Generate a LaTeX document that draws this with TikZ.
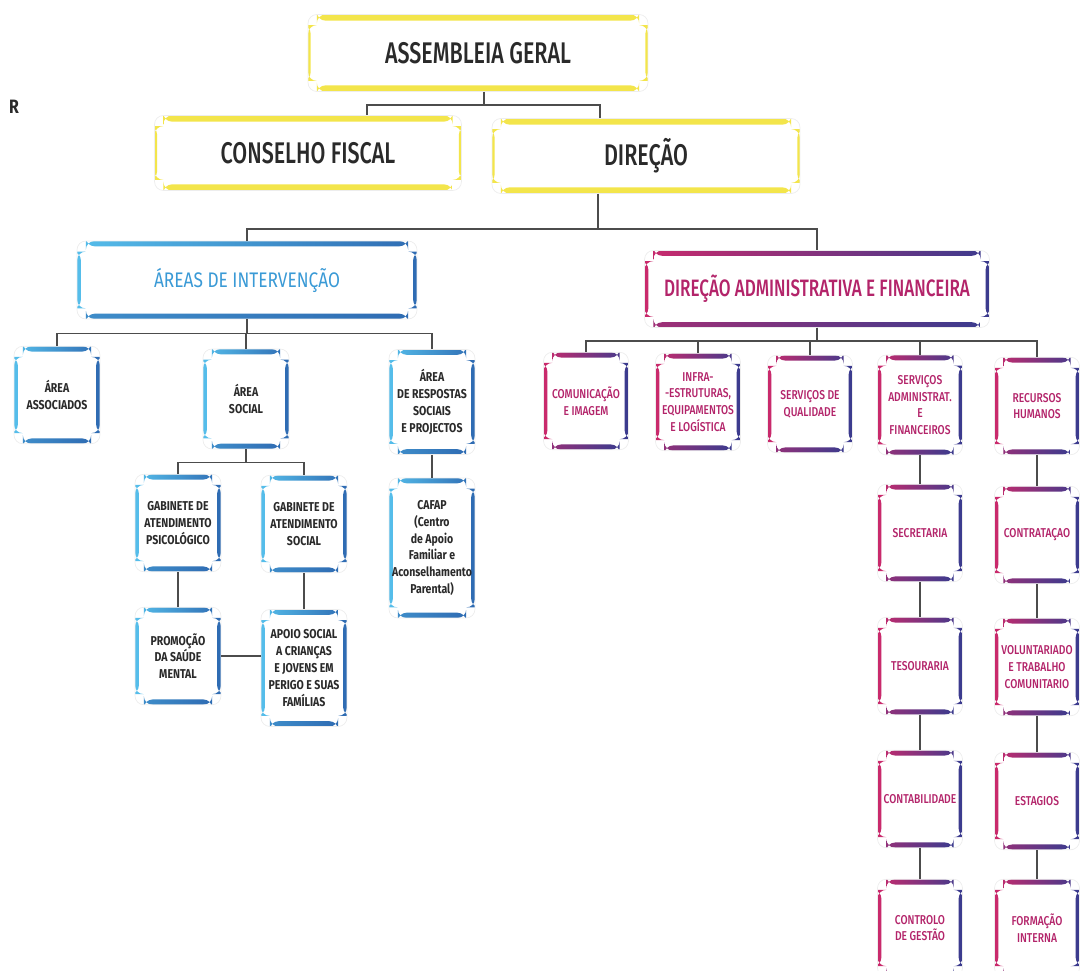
\documentclass[tikz,border=0pt]{standalone}
\usepackage{fontspec}
\setmainfont{Fira Sans}[FakeStretch=0.82]
\newfontfamily\titlefont{Fira Sans Medium}[FakeStretch=0.72]
\newfontfamily\boxfont{Fira Sans Medium}[FakeStretch=0.8]

\definecolor{ylw}{HTML}{F3E54B}
\definecolor{skyb}{HTML}{55BDEA}
\definecolor{deepb}{HTML}{2F6CB3}
\definecolor{magA}{HTML}{C92A6C}
\definecolor{magB}{HTML}{3C3B8E}
\definecolor{inkd}{HTML}{2A2A2A}
\definecolor{bluetxt}{HTML}{3A9AD6}
\definecolor{magtxt}{HTML}{B3246A}

\tikzset{
  frame/.style n args={5}{fill=white, draw=black!7, rounded corners=5pt,
    align=center, inner sep=1pt,
    path picture={
      \shade[left color=#1, right color=#2]
        ([xshift=5pt]path picture bounding box.north west) rectangle
        ([xshift=-5pt,yshift=-#3]path picture bounding box.north east);
      \shade[left color=#5, right color=#2]
        ([xshift=5pt]path picture bounding box.south west) rectangle
        ([xshift=-5pt,yshift=#3]path picture bounding box.south east);
      \fill[#1] ([yshift=-6pt]path picture bounding box.north west) rectangle
        ([xshift=#4,yshift=6pt]path picture bounding box.south west);
      \fill[#2] ([yshift=-6pt]path picture bounding box.north east) rectangle
        ([xshift=-#4,yshift=6pt]path picture bounding box.south east);
    }},
  bigbox/.style={frame={ylw}{ylw}{3.5pt}{1.5pt}{ylw}, minimum width=6.14cm,
    minimum height=1.5cm, text=inkd,
    font=\titlefont\fontsize{17}{19}\selectfont},
  headblue/.style={frame={skyb}{deepb}{3pt}{2.2pt}{skyb!40!deepb}, minimum width=6.8cm,
    minimum height=1.56cm, text=bluetxt, font=\fontsize{12}{14}\selectfont},
  headpink/.style={frame={magA}{magB}{3pt}{2.2pt}{magA!70!magB}, minimum width=6.9cm,
    minimum height=1.54cm, text=magtxt,
    font=\titlefont\fontsize{13.5}{15}\selectfont},
  leftbox/.style={frame={skyb}{deepb}{3pt}{2.2pt}{skyb!40!deepb}, minimum width=1.72cm,
    minimum height=1.95cm, text=inkd,
    font=\bfseries\fontsize{7.3}{9.6}\selectfont},
  rightbox/.style={frame={magA}{magB}{3pt}{2.2pt}{magA!60!magB}, minimum width=1.7cm,
    minimum height=1.95cm, text=magtxt, font=\boxfont\fontsize{7.3}{9.6}\selectfont},
  link/.style={draw=black!70, line width=0.9pt}
}

\begin{document}
\begin{tikzpicture}[x=0.02cm, y=-0.02cm]
    \useasboundingbox (0,0) rectangle (1088,970);
    % Top
    \node[text=inkd, font=\bfseries\fontsize{11}{12}\selectfont] (logo) at (14,107) {R};
    \node[bigbox, minimum width=6.8cm, minimum height=1.54cm] (ag) at (478,53) {ASSEMBLEIA GERAL};
    \node[bigbox] (cf) at (308,153) {CONSELHO FISCAL};
    \node[bigbox, minimum width=6.16cm] (dir) at (646,156) {DIREÇÃO};
    % Second level
    \node[headblue] (areas) at (247,280) {ÁREAS DE INTERVENÇÃO};
    \node[headpink] (daf) at (817,289) {DIREÇÃO ADMINISTRATIVA E FINANCEIRA};
    % Areas de intervencao
    \node[leftbox] (assoc) at (57,395) {ÁREA\\ASSOCIADOS};
    \node[leftbox, minimum height=2cm] (social) at (246,399) {ÁREA\\SOCIAL};
    \node[leftbox, minimum height=2.1cm] (resp) at (432,402) {ÁREA\\DE RESPOSTAS\\SOCIAIS\\E PROJECTOS};
    \node[leftbox] (gabpsi) at (178,523) {GABINETE DE\\ATENDIMENTO\\PSICOLÓGICO};
    \node[leftbox] (gabsoc) at (304,524) {GABINETE DE\\ATENDIMENTO\\SOCIAL};
    \node[leftbox] (saude) at (178,656) {PROMOÇÃO\\DA SAÚDE\\MENTAL};
    \node[leftbox, minimum height=2.34cm] (apoio) at (304,668) {APOIO SOCIAL\\A CRIANÇAS\\E JOVENS EM\\PERIGO E SUAS\\FAMÍLIAS};
    \node[leftbox, minimum height=2.8cm] (cafap) at (432,548) {CAFAP\\(Centro\\de Apoio\\Familiar e\\Aconselhamento\\Parental)};
    % Direcao administrativa e financeira
    \node[rightbox] (comunic) at (586,401) {COMUNICAÇÃO\\E IMAGEM};
    \node[rightbox] (infra) at (698,402) {INFRA-\\-ESTRUTURAS,\\EQUIPAMENTOS\\E LOGÍSTICA};
    \node[rightbox] (quali) at (810,404) {SERVIÇOS DE\\QUALIDADE};
    \node[rightbox, minimum height=2cm] (servadm) at (920,405) {SERVIÇOS\\ADMINISTRAT.\\E\\FINANCEIROS};
    \node[rightbox] (rh) at (1037,406) {RECURSOS\\HUMANOS};
    \node[rightbox] (secret) at (920,533) {SECRETARIA};
    \node[rightbox] (tesour) at (920,666) {TESOURARIA};
    \node[rightbox] (contab) at (920,799) {CONTABILIDADE};
    \node[rightbox] (gestao) at (920,928) {CONTROLO\\DE GESTÃO};
    \node[rightbox] (contrat) at (1037,535) {CONTRATAÇAO};
    \node[rightbox] (volunt) at (1037,667) {VOLUNTARIADO\\E TRABALHO\\COMUNITARIO};
    \node[rightbox] (estag) at (1037,801) {ESTAGIOS};
    \node[rightbox] (formac) at (1037,928) {FORMAÇÃO\\INTERNA};
    % Edges
    \draw[link] ([xshift=0.12cm]ag.south) -- ++(0,13) -| ([xshift=1.18cm]cf.north);
    \draw[link] ([xshift=0.12cm]ag.south) -- ++(0,13) -| ([xshift=-0.92cm]dir.north);
    \draw[link] ([xshift=-0.96cm]dir.south) -- ++(0,35) -| (areas.north);
    \draw[link] ([xshift=-0.96cm]dir.south) -- ++(0,35) -| (daf.north);
    \draw[link] (areas.south) -- ++(0,14) -| (assoc.north);
    \draw[link] (areas.south) -- ++(0,14) -| (social.north);
    \draw[link] (areas.south) -- ++(0,14) -| (resp.north);
    \draw[link] (social.south) -- ++(0,13) -| (gabpsi.north);
    \draw[link] (social.south) -- ++(0,13) -| (gabsoc.north);
    \draw[link] (gabpsi) -- (saude);
    \draw[link] (gabsoc) -- (apoio);
    \draw[link] (saude.east) -- (saude.east -| apoio.west);
    \draw[link] (resp) -- (cafap);
    \draw[link] (daf.south) -- ++(0,13) -| (comunic.north);
    \draw[link] (daf.south) -- ++(0,13) -| (infra.north);
    \draw[link] (daf.south) -- ++(0,13) -| (quali.north);
    \draw[link] (daf.south) -- ++(0,13) -| (servadm.north);
    \draw[link] (daf.south) -- ++(0,13) -| (rh.north);
    \draw[link] (servadm) -- (secret);
    \draw[link] (secret) -- (tesour);
    \draw[link] (tesour) -- (contab);
    \draw[link] (contab) -- (gestao);
    \draw[link] (rh) -- (contrat);
    \draw[link] (contrat) -- (volunt);
    \draw[link] (volunt) -- (estag);
    \draw[link] (estag) -- (formac);
\end{tikzpicture}
\end{document}
